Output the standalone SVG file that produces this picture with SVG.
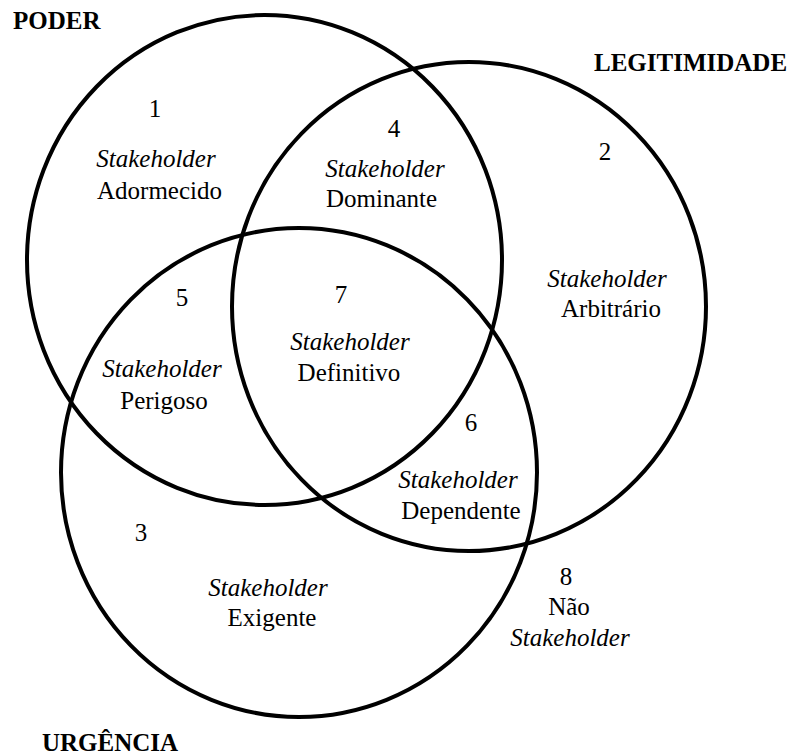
<svg xmlns="http://www.w3.org/2000/svg" width="790" height="756" viewBox="0 0 790 756">
  <style>
    .set { fill: none; stroke: #000; stroke-width: 4; }
    .title { font-weight: bold; }
    .mid { text-anchor: middle; }
    .it { font-style: italic; }
  </style>
  <rect width="790" height="756" fill="#fff"/>

  <!-- The three attribute sets -->
  <g id="sets">
    <ellipse id="set-poder" class="set" cx="264.5" cy="260" rx="237.5" ry="245"/>
    <ellipse id="set-legitimidade" class="set" cx="469" cy="306.5" rx="237" ry="244.5"/>
    <ellipse id="set-urgencia" class="set" cx="299" cy="472.5" rx="238" ry="244.5"/>
  </g>

  <g id="labels" font-family="'Liberation Serif', 'Times New Roman', 'DejaVu Serif', serif" font-size="25" fill="#000">
    <!-- Set titles -->
    <g id="title-poder"><text class="title" x="13" y="29">PODER</text></g>
    <g id="title-legitimidade"><text class="title" x="594" y="71">LEGITIMIDADE</text></g>
    <g id="title-urgencia"><text class="title" x="42" y="751">URGÊNCIA</text></g>

    <!-- Region labels -->
    <g id="region-1" class="mid">
      <text x="155" y="117">1</text>
      <text class="it" x="156" y="167">Stakeholder</text>
      <text x="159.5" y="199">Adormecido</text>
    </g>
    <g id="region-4" class="mid">
      <text x="394" y="137">4</text>
      <text class="it" x="385" y="177">Stakeholder</text>
      <text x="381.5" y="207">Dominante</text>
    </g>
    <g id="region-2" class="mid">
      <text x="605" y="160">2</text>
      <text class="it" x="607" y="287">Stakeholder</text>
      <text x="611" y="317">Arbitrário</text>
    </g>
    <g id="region-5" class="mid">
      <text x="182" y="306">5</text>
      <text class="it" x="162" y="377">Stakeholder</text>
      <text x="164" y="409">Perigoso</text>
    </g>
    <g id="region-7" class="mid">
      <text x="341" y="303">7</text>
      <text class="it" x="350" y="350">Stakeholder</text>
      <text x="349" y="381">Definitivo</text>
    </g>
    <g id="region-6" class="mid">
      <text x="471" y="431">6</text>
      <text class="it" x="458" y="488">Stakeholder</text>
      <text x="461" y="519">Dependente</text>
    </g>
    <g id="region-3" class="mid">
      <text x="141" y="541">3</text>
      <text class="it" x="268" y="596">Stakeholder</text>
      <text x="272" y="626">Exigente</text>
    </g>
    <g id="region-8" class="mid">
      <text x="566" y="585">8</text>
      <text x="569" y="615">Não</text>
      <text class="it" x="570" y="646">Stakeholder</text>
    </g>
  </g>
</svg>
